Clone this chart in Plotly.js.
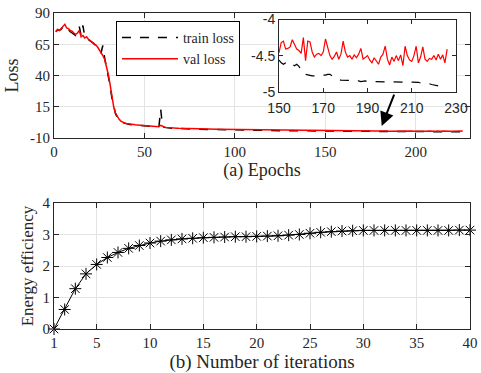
<!DOCTYPE html>
<html>
<head>
<meta charset="utf-8">
<script src="https://cdn.plot.ly/plotly-3.0.1.min.js"></script>
<style>html,body{margin:0;padding:0;background:#fff;}#chart{width:481px;height:373px;}</style>
</head>
<body>
<div id="chart"></div>
<script>
// ---- (a) training curves ----
var epochsA = [1,2,3,4,5,6,7,8,9,10,11,12,13,14,15,16,17,18,19,20,21,22,23,24,25,26,27,28,29,30,31,32,33,34,35,36,37,38,39,40,41,42,43,44,45,46,47,48,49,50,51,52,53,54,55,56,57,58,59,60,61,62,63,64,65,66,67,68,69,70];
var epochsB = [75,80,85,90,95,100,105,110,115,120,125,130,135,140,145];
var epochsC = [150,151,152,153,154,155,156,157,158,159,160,161,162,163,164,165,166,167,168,169,170,171,172,173,174,175,176,177,178,179,180,181,182,183,184,185,186,187,188,189,190,191,192,193,194,195,196,197,198,199,200,201,202,203,204,205,206,207,208,209,210,211,212,213,214,215,216,217,218,219,220,221,222,223,224,225,226];

var valA = [75,77,76,78,80,81,78,77.5,76,75.5,74,73,74,76,71,72,70,71,69,68,67,66,64.5,63,61,59,56,53,48,41,33,23,15,10,7,5,3.5,2.6,2.0,1.6,1.3,1.1,0.9,0.8,0.6,0.5,0.4,0.3,0.2,0.2,0.1,0.0,-0.2,-0.3,-0.5,-0.7,-0.9,-1.0,0.2,-0.6,-1.2,-1.5,-1.7,-1.8,-1.9,-2.0,-2.0,-2.1,-2.2,-2.2];
var valB = [-2.4,-2.6,-2.8,-3.0,-3.1,-3.3,-3.4,-3.6,-3.7,-3.8,-3.9,-4.0,-4.1,-4.2,-4.3];
var valC = [-4.46,-4.32,-4.30,-4.41,-4.40,-4.38,-4.28,-4.34,-4.41,-4.43,-4.47,-4.25,-4.57,-4.30,-4.31,-4.45,-4.52,-4.48,-4.47,-4.50,-4.45,-4.27,-4.38,-4.50,-4.55,-4.51,-4.45,-4.55,-4.48,-4.30,-4.45,-4.52,-4.50,-4.55,-4.49,-4.53,-4.48,-4.40,-4.55,-4.52,-4.50,-4.56,-4.60,-4.53,-4.58,-4.62,-4.52,-4.48,-4.37,-4.55,-4.63,-4.52,-4.58,-4.50,-4.57,-4.49,-4.64,-4.37,-4.50,-4.56,-4.58,-4.50,-4.37,-4.60,-4.52,-4.38,-4.55,-4.58,-4.54,-4.55,-4.50,-4.56,-4.48,-4.55,-4.49,-4.60,-4.41];

var trainA = [75,76.5,76,77,79,80,78,76,75,74,73,72,73,79,72,80,71,70,68.5,67.5,66.5,65.5,64,62.5,60.5,58,64,54,47,40,32,22,14.5,9.5,6.5,4.5,3.0,2.2,1.7,1.3,1.0,0.8,0.6,0.5,0.3,0.2,0.1,0.0,-0.1,-0.2,-0.3,-0.4,-0.5,-0.6,-0.8,-1.0,-1.1,-1.1,13,-0.9,-1.5,-1.8,-2.0,-2.1,-2.2,-2.3,-2.3,-2.4,-2.5,-2.5];
var trainB = [-2.7,-2.9,-3.1,-3.3,-3.4,-3.6,-3.7,-3.8,-3.9,-4.0,-4.1,-4.2,-4.3,-4.4,-4.5];
var trainC = [-4.56,-4.60,-4.62,-4.60,-4.58,-4.60,-4.62,-4.64,-4.62,-4.65,-4.70,-4.75,-4.76,-4.77,-4.77,-4.78,-4.78,-4.78,-4.78,-4.78,-4.77,-4.77,-4.76,-4.76,-4.78,-4.80,-4.82,-4.83,-4.84,-4.84,-4.84,-4.84,-4.85,-4.85,-4.84,-4.85,-4.85,-4.86,-4.85,-4.85,-4.86,-4.86,-4.86,-4.86,-4.86,-4.87,-4.86,-4.86,-4.86,-4.86,-4.86,-4.86,-4.86,-4.87,-4.86,-4.86,-4.87,-4.87,-4.87,-4.87,-4.87,-4.87,-4.87,-4.87,-4.88,-4.88,-4.88,-4.88,-4.89,-4.90,-4.91,-4.91,-4.92,-4.92,-4.92,-4.92,-4.93];

var epochs = epochsA.concat(epochsB, epochsC);
var valLoss = valA.concat(valB, valC);
var trainLoss = trainA.concat(trainB, trainC);

var lossTicks = [-10,15,40,65,90];
var lossTickText = ["-10","15","40","65","90"];
var epochTicks = [0,50,100,150,200,230];
var insetXTicks = [150,170,190,210,230];
var insetYTicks = [-5,-4.5,-4];
var insetYText = ["-5","-4.5","-4"];

// ---- (b) energy efficiency ----
var iterations = [1,2,3,4,5,6,7,8,9,10,11,12,13,14,15,16,17,18,19,20,21,22,23,24,25,26,27,28,29,30,31,32,33,34,35,36,37,38,39,40];
var efficiency = [0,0.62,1.28,1.75,2.05,2.27,2.43,2.56,2.65,2.73,2.79,2.83,2.86,2.88,2.90,2.91,2.92,2.93,2.93,2.94,2.95,2.96,2.98,3.00,3.04,3.07,3.09,3.11,3.12,3.13,3.13,3.13,3.13,3.13,3.13,3.13,3.13,3.13,3.14,3.14];
var iterTicks = [1,5,10,15,20,25,30,35,40];
var effTicks = [0,1,2,3,4];

var serif = "Liberation Serif";
var sans = "Liberation Sans";
var axCol = "#262626";
var gridCol = "#e3e3e3";

var traces = [
  {x: epochs, y: trainLoss, xaxis: "x", yaxis: "y", type: "scatter", mode: "lines",
   name: "train loss", line: {color: "#000000", width: 1.5, dash: "dash"}},
  {x: epochs, y: valLoss, xaxis: "x", yaxis: "y", type: "scatter", mode: "lines",
   name: "val loss", line: {color: "#ff0000", width: 1.5}},
  {x: epochs, y: trainLoss, xaxis: "x3", yaxis: "y3", type: "scatter", mode: "lines",
   showlegend: false, line: {color: "#000000", width: 1.2, dash: "dash"}},
  {x: epochs, y: valLoss, xaxis: "x3", yaxis: "y3", type: "scatter", mode: "lines",
   showlegend: false, line: {color: "#ff0000", width: 1.2}},
  {x: iterations, y: efficiency, xaxis: "x2", yaxis: "y2", type: "scatter", mode: "lines+markers",
   showlegend: false, cliponaxis: false, line: {color: "#000000", width: 1},
   marker: {symbol: "asterisk-open", size: 10, color: "#000000", line: {color: "#000000", width: 1}}}
];

function baseAxis(extra) {
  var a = {showline: true, linecolor: axCol, linewidth: 1, mirror: "ticks", ticks: "inside",
    ticklen: 5, tickcolor: axCol, zeroline: false, showgrid: true, gridcolor: gridCol,
    tickfont: {family: serif, size: 15, color: axCol}, fixedrange: true};
  for (var k in extra) a[k] = extra[k];
  return a;
}

var layout = {
  width: 481, height: 373,
  margin: {l: 54, r: 11, t: 13, b: 44},
  paper_bgcolor: "#ffffff", plot_bgcolor: "#ffffff",
  showlegend: true,
  legend: {x: 0.149, y: 0.975, xanchor: "left", yanchor: "top", bgcolor: "#ffffff",
    bordercolor: "#000000", borderwidth: 1, font: {family: serif, size: 14, color: axCol},
    tracegroupgap: 0, itemwidth: 56},
  xaxis: baseAxis({domain: [0, 1], anchor: "y", range: [0, 230], tickmode: "array", tickvals: epochTicks,
    title: {text: "(a) Epochs", font: {family: serif, size: 18, color: axCol}, standoff: 4}}),
  yaxis: baseAxis({domain: [0.6044, 1], anchor: "x", range: [-10, 90], tickmode: "array",
    tickvals: lossTicks, ticktext: lossTickText,
    title: {text: "Loss", font: {family: serif, size: 18, color: axCol}, standoff: 6}}),
  xaxis2: baseAxis({domain: [0, 1], anchor: "y2", range: [1, 40], tickmode: "array", tickvals: iterTicks,
    title: {text: "(b) Number of iterations", font: {family: serif, size: 19, color: axCol}, standoff: 2}}),
  yaxis2: baseAxis({domain: [0, 0.3987], anchor: "x2", range: [0, 4], tickmode: "array", tickvals: effTicks,
    title: {text: "Energy efficiency", font: {family: serif, size: 17, color: axCol}, standoff: 4}}),
  xaxis3: baseAxis({domain: [0.5409, 0.9663], anchor: "y3", range: [150, 230], tickmode: "array",
    tickvals: insetXTicks, showgrid: false, ticklen: 4, ticklabelstandoff: 4,
    tickfont: {family: sans, size: 14, color: axCol}}),
  yaxis3: baseAxis({domain: [0.751, 0.9794], anchor: "x3", range: [-5, -4], tickmode: "array",
    tickvals: insetYTicks, ticktext: insetYText, showgrid: false, ticklen: 4,
    tickfont: {family: sans, size: 14, color: axCol}}),
  annotations: [
    {x: 181.2, y: -0.4, xref: "x", yref: "y", ax: 13, ay: -33, axref: "pixel", ayref: "pixel",
     text: "", showarrow: true, arrowhead: 2, arrowsize: 1.4, arrowwidth: 2, arrowcolor: "#000000"}
  ]
};

Plotly.newPlot("chart", traces, layout, {displayModeBar: false, staticPlot: true});
</script>
</body>
</html>
